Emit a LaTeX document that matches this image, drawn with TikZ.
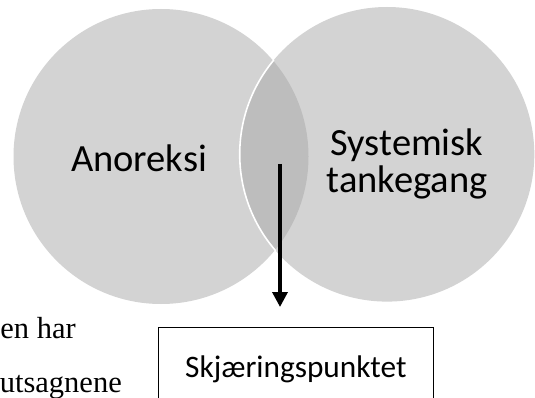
\documentclass[tikz,border=0pt]{standalone}
\usepackage{fontspec}
\setmainfont{Carlito}
\newfontfamily\timesfont{Liberation Serif}
\usetikzlibrary{arrows.meta}
\definecolor{circfill}{RGB}{211,211,211}
\definecolor{interfill}{RGB}{189,189,189}
\tikzset{
  circlabel/.style={font=\fontsize{38.5}{37.5}\selectfont, align=center, inner sep=0pt, text=black},
  sidetext/.style={font=\timesfont\fontsize{30.5}{31}\selectfont, inner sep=0pt, anchor=base east},
  resultbox/.style={draw=black, line width=1pt, anchor=north west, minimum width=275.3pt, inner xsep=0pt, inner ysep=0pt, text height=50.3pt, text depth=70pt, font=\fontsize{31.3}{32}\selectfont},
  bigarrow/.style={line width=3.5pt, -{Triangle[length=15pt,width=15pt]}}
}
\begin{document}
\begin{tikzpicture}[x=1pt,y=-1pt]
\useasboundingbox (0,0) rectangle (535,398);
\clip (0,0) rectangle (535,398);
% circles
\fill[circfill] (161,156.5) circle[radius=147.5];
\fill[circfill] (387,154.3) circle[radius=147.3];
\begin{scope}
  \clip (161,156.5) circle[radius=147.5];
  \fill[interfill] (387,154.3) circle[radius=147.3];
\end{scope}
\begin{scope}
  \clip (161,156.5) circle[radius=148.5];
  \draw[white, line width=1.6pt] (387,154.3) circle[radius=147.3];
\end{scope}
% labels
\node[circlabel, anchor=base] (ano) at (139,172) {Anoreksi};
\node[circlabel, anchor=base] (sys) at (407,193) {Systemisk\\tankegang};
% side text
\node[sidetext] (t1) at (76,338) {en har};
\node[sidetext] (t2) at (122,392) {utsagnene};
% box
\node[resultbox] (box) at (157.7,326.7) {Skjæringspunktet};
% arrow
\coordinate (a1) at (280,164);
\draw[bigarrow, shorten >=19.7pt] (a1) -- (a1 |- box.north);
\end{tikzpicture}
\end{document}
